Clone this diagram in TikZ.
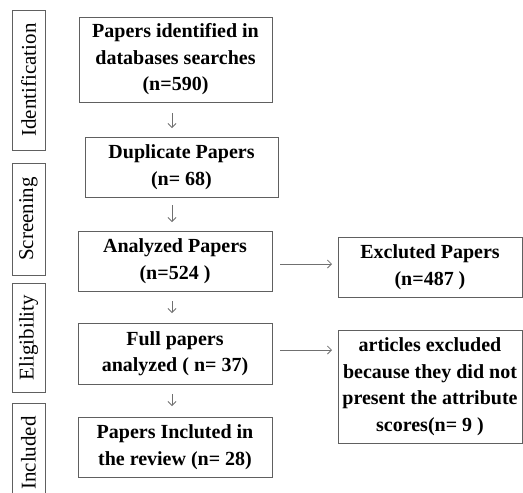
\documentclass[tikz,border=0pt]{standalone}
\usepackage{fontspec}
\setmainfont{Liberation Serif}
\usetikzlibrary{arrows.meta,calc}
\definecolor{boxline}{HTML}{606060}
\definecolor{arrline}{HTML}{707070}
\begin{document}
\begin{tikzpicture}[x=1pt,y=-1pt,
  every node/.style={inner sep=0pt, outer sep=0pt},
  flowbox/.style={draw=boxline, line width=1pt, align=center, font=\fontsize{20}{26.5}\selectfont\bfseries},
  stagebox/.style={draw=boxline, line width=1pt, rotate=90, align=center, font=\fontsize{21}{24}\selectfont},
  flowarrow/.style={draw=arrline, line width=0.8pt, -{Straight Barb[length=4pt,width=8pt]}}]
\useasboundingbox (0,0) rectangle (523,493);
% stage labels
\node[stagebox, minimum width=140, minimum height=33] (ident) at (28.5,80) {Identification};
\node[stagebox, minimum width=112, minimum height=33] (screen) at (28.5,219) {Screening};
\node[stagebox, minimum width=109, minimum height=33] (elig) at (28.5,337.5) {Eligibility};
\node[stagebox, minimum width=100, minimum height=33] (incl) at (28.5,453) {Included};
% main boxes
\node[flowbox, minimum width=193, minimum height=85] (b1) at (175.5,59.5) {Papers identified in\\databases searches\\(n=590)};
\node[flowbox, minimum width=193, minimum height=60] (b2) at (181.5,167) {Duplicate Papers\\(n= 68)};
\node[flowbox, minimum width=194, minimum height=60] (b3) at (175,261) {Analyzed Papers\\(n=524 )};
\node[flowbox, minimum width=194, minimum height=61] (b4) at (175,353.5) {Full papers\\analyzed ( n= 37)};
\node[flowbox, minimum width=194, minimum height=60] (b5) at (175,447) {Papers Incluted in\\the review (n= 28)};
% right boxes
\node[flowbox, minimum width=184, minimum height=60] (r1) at (430,267) {Excluted Papers\\(n=487 )};
\node[flowbox, minimum width=184, minimum height=113] (r2) at (430,386.5) {articles excluded\\because they did not\\present the attribute\\scores(n= 9 )};
% arrows
\draw[flowarrow, shorten <=11pt, shorten >=9pt] (b1.south -| 172,0) -- (b2.north -| 172,0);
\draw[flowarrow, shorten <=8pt, shorten >=9pt] (b2.south -| 172,0) -- (b3.north -| 172,0);
\draw[flowarrow, shorten <=10pt, shorten >=10pt] (b3.south -| 172,0) -- (b4.north -| 172,0);
\draw[flowarrow, shorten <=10pt, shorten >=11pt] (b4.south -| 172,0) -- (b5.north -| 172,0);
\draw[flowarrow, shorten <=8pt, shorten >=6pt] (b3.east |- 0,264) -- (r1.west |- 0,264);
\draw[flowarrow, shorten <=8pt, shorten >=6pt] (b4.east |- 0,350) -- (r2.west |- 0,350);
\end{tikzpicture}
\end{document}
